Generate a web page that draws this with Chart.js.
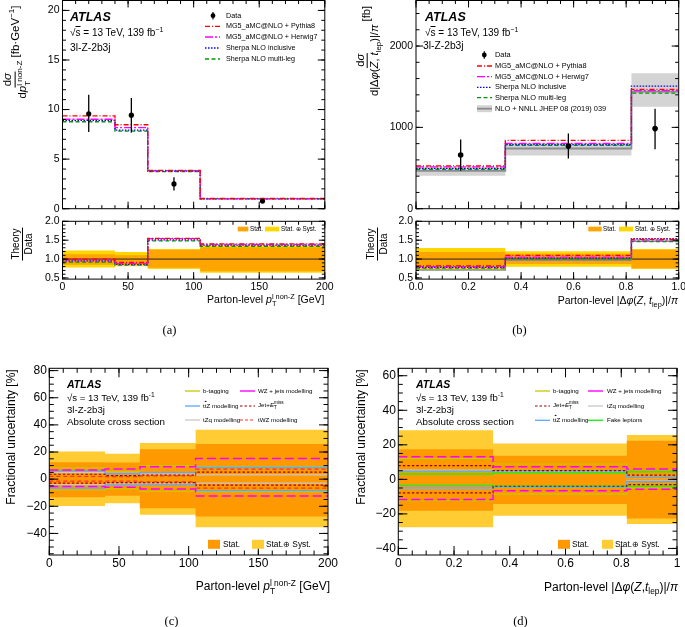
<!DOCTYPE html>
<html><head><meta charset="utf-8">
<script src="https://cdn.jsdelivr.net/npm/chart.js@4.4.1/dist/chart.umd.min.js"></script>
<style>
body{margin:0;background:#fff;}
#root{position:relative;width:685px;height:627px;overflow:hidden;background:#fff;font-family:'Liberation Sans',Arial,sans-serif;}
canvas{position:absolute;}
.t{position:absolute;white-space:nowrap;color:#000;line-height:1;font-family:'Liberation Sans',Arial,sans-serif;}
.t sub,.t sup{font-size:70%;line-height:0;}
.ss{display:inline-block;vertical-align:-0.45em;line-height:1;font-size:70%;text-align:left;}
.ss>span{display:block;}
.frac{display:inline-flex;flex-direction:column;align-items:center;vertical-align:middle;line-height:1.1;}
.frac>span:first-child{border-bottom:0.9px solid #000;padding:0 1px 1px 1px;}
.ov{text-decoration:overline;}
</style></head><body><div id="root"></div>
<script>
// ---------------- data ----------------
const binsPt = [0, 40, 65, 105, 200];
const binsDphi = [0, 0.34, 0.82, 1.0];

// (a) differential cross section vs pT(l non-Z)
const ptDataX = [20, 52.5, 85, 152.5];
const ptData = [9.57, 9.43, 2.50, 0.77];
const ptDataLo = [7.73, 7.67, 1.83, 0.59];
const ptDataHi = [11.50, 11.17, 3.17, 0.95];
const ptPythia8 = [9.37, 8.47, 3.87, 1.03];
const ptHerwig7 = [9.02, 8.17, 3.85, 1.02];
const ptSherpaIncl = [8.90, 7.93, 3.80, 1.00];
const ptSherpaML = [8.77, 7.83, 3.73, 0.99];
// (a) ratio
const ptRatPythia8 = [1.00, 0.91, 1.55, 1.40];
const ptRatHerwig7 = [0.98, 0.88, 1.54, 1.39];
const ptRatSherpaIncl = [0.95, 0.86, 1.51, 1.37];
const ptRatSherpaML = [0.92, 0.84, 1.48, 1.34];
const ptRatStatUp = [1.13, 1.10, 1.25, 1.31];
const ptRatStatDn = [0.85, 0.87, 0.77, 0.68];
const ptRatTotUp = [1.23, 1.19, 1.27, 1.36];
const ptRatTotDn = [0.78, 0.81, 0.74, 0.64];

// (b) differential cross section vs |dphi(Z,t_lep)|/pi
const dpDataX = [0.17, 0.58, 0.91];
const dpData = [660, 770, 985];
const dpDataLo = [466, 617, 730];
const dpDataHi = [852, 925, 1229];
const dpPythia8 = [527, 839, 1468];
const dpHerwig7 = [515, 803, 1452];
const dpSherpaIncl = [495, 787, 1508];
const dpSherpaML = [483, 779, 1420];
const dpNNLL = [466, 740, 1440];
const dpNNLLUp = [510, 805, 1665];
const dpNNLLDn = [405, 655, 1255];
// (b) ratio
const dpRatPythia8 = [0.82, 1.10, 1.52];
const dpRatHerwig7 = [0.80, 1.05, 1.50];
const dpRatSherpaIncl = [0.78, 1.03, 1.54];
const dpRatSherpaML = [0.76, 1.01, 1.46];
const dpRatNNLL = [0.71, 0.97, 1.47];
const dpRatStatUp = [1.19, 1.14, 1.25];
const dpRatStatDn = [0.80, 0.87, 0.76];
const dpRatTotUp = [1.29, 1.21, 1.27];
const dpRatTotDn = [0.72, 0.80, 0.74];

// (c) fractional uncertainties vs pT
const cTotUp = [20.4, 18.7, 26.6, 36.4];
const cTotDn = [-19.7, -17.7, -26.3, -35.4];
const cStatUp = [12.5, 12.3, 22.0, 26.0];
const cStatDn = [-13.3, -12.3, -21.4, -27.6];
const cWZUp = [6.8, 7.4, 9.2, 15.2];
const cWZDn = [-5.4, -5.9, -7.2, -12.5];
const cBtagUp = [8.3, 5.5, 9.8, 9.0];
const cBtagDn = [-8.0, -7.2, -9.0, -9.2];
const cTtZUp = [6.2, 4.0, 5.0, 8.6];
const cTtZDn = [-6.6, -4.2, -4.2, -8.4];
const cTZqUp = [4.8, 4.3, 3.7, 3.2];
const cTZqDn = [-4.0, -3.5, -3.0, -3.0];
const cJetUp = [3.6, 2.6, 3.0, 5.2];
const cJetDn = [-3.0, -2.5, -2.6, -4.4];
const cTWZUp = [2.0, 1.8, 2.4, 7.4];
const cTWZDn = [-1.4, -1.4, -2.0, -6.6];

// (d) fractional uncertainties vs dphi
const dTotUp = [28.5, 20.8, 25.7];
const dTotDn = [-27.8, -21.1, -25.9];
const dStatUp = [17.5, 13.7, 22.4];
const dStatDn = [-18.2, -14.3, -22.6];
const dWZUp = [13.1, 7.3, 6.0];
const dWZDn = [-11.6, -6.6, -5.8];
const dJetUp = [7.9, 5.0, 2.5];
const dJetDn = [-7.8, -4.0, -3.0];
const dBtagUp = [12.0, 8.9, 4.4];
const dBtagDn = [-12.4, -8.5, -5.0];
const dTZqUp = [5.4, 4.5, 1.0];
const dTZqDn = [-5.2, -4.4, -1.0];
const dTtZUp = [4.8, 4.9, 1.2];
const dTtZDn = [-5.0, -4.5, -1.4];
const dFakeUp = [3.1, 3.8, 4.4];
const dFakeDn = [-3.5, -3.9, -4.0];

const ratioRef = 1.0;

// ---------------- styles ----------------
const RED='#ff0000', MAG='#ff00ff', BLUE='#0000ff', GRN='#009a00';
const ORA_R='#ffa500', YEL_R='#ffd700';
const ORA='#ff9900', YEL='#ffcc33';
const S_BTAG='#c8c800', S_WZ='#ff00ff', S_TTZ='#5aa9ff', S_TZQ='#c8c8c8', S_JET='#990000', S_TWZ='#ff3030', S_FAKE='#22ee22';
const D_PY=[5,2,1,2], D_HW=[8,2,2,2], D_SI=[1.5,1.5], D_SM=[4,2.5];

const root = document.getElementById('root');
Chart.defaults.font.family = "'Liberation Sans', Arial, sans-serif";
Chart.defaults.color = '#000';

function steps(edges, vals){ return edges.map((e,i)=>({x:e, y:vals[Math.min(i, vals.length-1)]})); }
function stepDS(edges, vals, color, dash, width){
  return {data:steps(edges, vals), stepped:'before', borderColor:color, borderDash:dash||[], borderWidth:width||1.3, pointRadius:0, fill:false};
}
function bandDS(edges, up, dn, color){
  return [
    {data:steps(edges, up), stepped:'before', borderColor:'rgba(0,0,0,0)', borderWidth:1, pointRadius:0, backgroundColor:color, fill:'+1'},
    {data:steps(edges, dn), stepped:'before', borderColor:'rgba(0,0,0,0)', borderWidth:1, pointRadius:0, fill:false}
  ];
}
function dataDS(xs, vals, lo, hi, r){
  return {data:xs.map((x,i)=>({x:x, y:vals[i]})), showLine:false, pointRadius:r||2.6, pointBackgroundColor:'#000', pointBorderWidth:0, pointBorderColor:'#000', errLo:lo, errHi:hi};
}
function refDS(x0, x1, v){
  return {data:[{x:x0,y:v},{x:x1,y:v}], borderColor:'#222', borderWidth:1, pointRadius:0, fill:false};
}

const errBars = {id:'errBars', afterDatasetDraw(chart, args){
  const ds = chart.data.datasets[args.index]; if(!ds.errLo) return;
  const ctx = chart.ctx, xs = chart.scales.x, ys = chart.scales.y;
  ctx.save(); ctx.strokeStyle='#000'; ctx.lineWidth=1.3; ctx.setLineDash([]);
  ds.data.forEach((p,i)=>{ const px = xs.getPixelForValue(p.x);
    ctx.beginPath(); ctx.moveTo(px, ys.getPixelForValue(ds.errLo[i])); ctx.lineTo(px, ys.getPixelForValue(ds.errHi[i])); ctx.stroke(); });
  ctx.restore();
}};
const rootFrame = {id:'rootFrame', afterDraw(chart, args, o){
  const ctx = chart.ctx, a = chart.chartArea, xs = chart.scales.x, ys = chart.scales.y;
  ctx.save(); ctx.strokeStyle='#000'; ctx.lineWidth=1; ctx.setLineDash([]);
  function tk(scale, step, len, horiz){
    const s = Math.ceil(scale.min/step - 1e-6), e = Math.floor(scale.max/step + 1e-6);
    for(let i=s;i<=e;i++){ const p = scale.getPixelForValue(i*step); ctx.beginPath();
      if(horiz){ ctx.moveTo(p,a.bottom); ctx.lineTo(p,a.bottom-len); ctx.moveTo(p,a.top); ctx.lineTo(p,a.top+len); }
      else { ctx.moveTo(a.left,p); ctx.lineTo(a.left+len,p); ctx.moveTo(a.right,p); ctx.lineTo(a.right-len,p); }
      ctx.stroke(); }
  }
  tk(xs, o.xMin, o.xMinL, true); tk(xs, o.xMaj, o.xMajL, true);
  tk(ys, o.yMin, o.yMinL, false); tk(ys, o.yMaj, o.yMajL, false);
  ctx.strokeRect(a.left, a.top, a.right-a.left, a.bottom-a.top);
  ctx.restore();
}};
// tick values: every multiple of the step inside the axis range
function stepTicks(step){
  return s => { const out=[]; const i0=Math.ceil(s.min/step - 1e-6), i1=Math.floor(s.max/step + 1e-6);
    for(let i=i0;i<=i1;i++) out.push({value:+(i*step).toFixed(6)}); s.ticks = out; };
}

function mk(box, area, sc, datasets, frame){
  const c = document.createElement('canvas');
  c.width = box.w; c.height = box.h;
  c.style.left = box.x+'px'; c.style.top = box.y+'px'; c.style.width = box.w+'px'; c.style.height = box.h+'px';
  root.appendChild(c);
  const wy = area.l - box.x, hx = box.y + box.h - area.b, pt = area.t - box.y, pr = box.x + box.w - area.r;
  new Chart(c, {type:'line', data:{datasets:datasets}, plugins:[errBars, rootFrame], options:{
    responsive:false, animation:false, devicePixelRatio:1, events:[],
    layout:{padding:{left:0, top:pt, right:pr, bottom:0}},
    plugins:{legend:{display:false}, tooltip:{enabled:false}, rootFrame:frame},
    scales:{
      x:{type:'linear', min:sc.xmin, max:sc.xmax, afterFit:s=>{s.height=hx;}, afterBuildTicks:stepTicks(sc.xstep), grid:{display:false, drawTicks:false}, border:{display:false},
         ticks:{display:sc.xlab, padding:sc.xpad, autoSkip:false, maxRotation:0, font:{size:sc.fs}, color:'#000', callback:sc.xfmt}},
      y:{type:'linear', min:sc.ymin, max:sc.ymax, afterFit:s=>{s.width=wy;}, afterBuildTicks:stepTicks(sc.ystep), grid:{display:false, drawTicks:false}, border:{display:false},
         ticks:{display:true, padding:sc.ypad, autoSkip:false, font:{size:sc.fs}, color:'#000', callback:sc.yfmt}}
    }}});
}
const fInt = v => (v<0 ? '\u2212'+Math.abs(Math.round(v)) : String(Math.round(v)));
const f1 = v => v.toFixed(1);
const fShort = v => String(+v.toFixed(2));

// ---------------- charts ----------------
const frAB = {xMaj:50, xMin:10, yMaj:5, yMin:1, xMajL:7, xMinL:3.5, yMajL:7, yMinL:3.5};
// (a) main
mk({x:0,y:-10,w:345,h:228}, {l:62.5,t:0.5,r:324.8,b:210.5},
  {xmin:0,xmax:200,ymin:0,ymax:21,ystep:5,xstep:50,xlab:false,fs:10.5,ypad:3,xpad:2,yfmt:fInt},
  [dataDS(ptDataX, ptData, ptDataLo, ptDataHi, 2.6),
   stepDS(binsPt, ptPythia8, RED, D_PY), stepDS(binsPt, ptHerwig7, MAG, D_HW), stepDS(binsPt, ptSherpaIncl, BLUE, D_SI), stepDS(binsPt, ptSherpaML, GRN, D_SM)],
  frAB);
// (a) ratio
mk({x:0,y:212,w:345,h:100}, {l:62.5,t:220.5,r:324.8,b:279.1},
  {xmin:0,xmax:200,ymin:0.47,ymax:2.0,ystep:0.5,xstep:50,xlab:true,fs:10.5,ypad:3,xpad:2,yfmt:f1,xfmt:fInt},
  [stepDS(binsPt, ptRatPythia8, RED, D_PY), stepDS(binsPt, ptRatHerwig7, MAG, D_HW), stepDS(binsPt, ptRatSherpaIncl, BLUE, D_SI), stepDS(binsPt, ptRatSherpaML, GRN, D_SM),
   refDS(0, 200, ratioRef),
   ...bandDS(binsPt, ptRatStatUp, ptRatStatDn, ORA_R), ...bandDS(binsPt, ptRatTotUp, ptRatTotDn, YEL_R)],
  {xMaj:50, xMin:10, yMaj:0.5, yMin:0.1, xMajL:7, xMinL:3.5, yMajL:6, yMinL:3});
// (b) main
mk({x:340,y:-10,w:360,h:228}, {l:416,t:0.5,r:678.7,b:210.5},
  {xmin:0,xmax:1,ymin:0,ymax:2560,ystep:1000,xstep:0.2,xlab:false,fs:10.5,ypad:3,xpad:2,yfmt:fInt},
  [dataDS(dpDataX, dpData, dpDataLo, dpDataHi, 2.8),
   stepDS(binsDphi, dpPythia8, RED, D_PY), stepDS(binsDphi, dpHerwig7, MAG, D_HW), stepDS(binsDphi, dpSherpaIncl, BLUE, D_SI), stepDS(binsDphi, dpSherpaML, GRN, D_SM),
   stepDS(binsDphi, dpNNLL, '#8c8c8c', [], 1.8),
   ...bandDS(binsDphi, dpNNLLUp, dpNNLLDn, '#d4d4d4')],
  {xMaj:0.2, xMin:0.05, yMaj:1000, yMin:200, xMajL:7, xMinL:3.5, yMajL:7, yMinL:3.5});
// (b) ratio
mk({x:340,y:212,w:360,h:100}, {l:416,t:220.5,r:678.7,b:279.1},
  {xmin:0,xmax:1,ymin:0.47,ymax:2.0,ystep:0.5,xstep:0.2,xlab:true,fs:10.5,ypad:3,xpad:2,yfmt:f1,xfmt:f1},
  [stepDS(binsDphi, dpRatPythia8, RED, D_PY), stepDS(binsDphi, dpRatHerwig7, MAG, D_HW), stepDS(binsDphi, dpRatSherpaIncl, BLUE, D_SI), stepDS(binsDphi, dpRatSherpaML, GRN, D_SM),
   stepDS(binsDphi, dpRatNNLL, '#8c8c8c', [], 1.5),
   refDS(0, 1, ratioRef),
   ...bandDS(binsDphi, dpRatStatUp, dpRatStatDn, ORA_R), ...bandDS(binsDphi, dpRatTotUp, dpRatTotDn, YEL_R)],
  {xMaj:0.2, xMin:0.05, yMaj:0.5, yMin:0.1, xMajL:7, xMinL:3.5, yMajL:6, yMinL:3});
// (c)
const D_WZ=[9,4], D_JET=[2.5,2], D_TWZ=[4,3];
mk({x:0,y:355,w:345,h:235}, {l:49.3,t:368.3,r:328,b:555},
  {xmin:0,xmax:200,ymin:-55.9,ymax:81.7,ystep:20,xstep:50,xlab:true,fs:12,ypad:2.5,xpad:1.5,yfmt:fInt,xfmt:fInt},
  [stepDS(binsPt, cWZUp, S_WZ, D_WZ, 1.5), stepDS(binsPt, cWZDn, S_WZ, D_WZ, 1.5),
   stepDS(binsPt, cTWZUp, S_TWZ, D_TWZ, 1.2), stepDS(binsPt, cTWZDn, S_TWZ, D_TWZ, 1.2),
   stepDS(binsPt, cJetUp, S_JET, D_JET, 1.2), stepDS(binsPt, cJetDn, S_JET, D_JET, 1.2),
   stepDS(binsPt, cTtZUp, S_TTZ, [], 1.3), stepDS(binsPt, cTtZDn, S_TTZ, [], 1.3),
   stepDS(binsPt, cTZqUp, S_TZQ, [], 1.3), stepDS(binsPt, cTZqDn, S_TZQ, [], 1.3),
   stepDS(binsPt, cBtagUp, S_BTAG, [], 1.2), stepDS(binsPt, cBtagDn, S_BTAG, [], 1.2),
   ...bandDS(binsPt, cStatUp, cStatDn, ORA), ...bandDS(binsPt, cTotUp, cTotDn, YEL)],
  {xMaj:50, xMin:10, yMaj:20, yMin:5, xMajL:9, xMinL:4.5, yMajL:9, yMinL:4.5});
// (d)
mk({x:345,y:355,w:355,h:235}, {l:398.3,t:368.3,r:677,b:555},
  {xmin:0,xmax:1,ymin:-43.8,ymax:64.3,ystep:20,xstep:0.2,xlab:true,fs:12,ypad:2.5,xpad:1.5,yfmt:fInt,xfmt:fShort},
  [stepDS(binsDphi, dWZUp, S_WZ, D_WZ, 1.5), stepDS(binsDphi, dWZDn, S_WZ, D_WZ, 1.5),
   stepDS(binsDphi, dJetUp, S_JET, D_JET, 1.2), stepDS(binsDphi, dJetDn, S_JET, D_JET, 1.2),
   stepDS(binsDphi, dFakeUp, S_FAKE, [], 1.4), stepDS(binsDphi, dFakeDn, S_FAKE, [], 1.4),
   stepDS(binsDphi, dTtZUp, S_TTZ, [], 1.3), stepDS(binsDphi, dTtZDn, S_TTZ, [], 1.3),
   stepDS(binsDphi, dTZqUp, S_TZQ, [], 1.3), stepDS(binsDphi, dTZqDn, S_TZQ, [], 1.3),
   stepDS(binsDphi, dBtagUp, S_BTAG, [], 1.2), stepDS(binsDphi, dBtagDn, S_BTAG, [], 1.2),
   ...bandDS(binsDphi, dStatUp, dStatDn, ORA), ...bandDS(binsDphi, dTotUp, dTotDn, YEL)],
  {xMaj:0.2, xMin:0.05, yMaj:20, yMin:5, xMajL:9, xMinL:4.5, yMajL:9, yMinL:4.5});

// ---------------- text & legends ----------------
function T(x, y, html, o){
  o = o||{};
  const d = document.createElement('div'); d.className='t'; d.innerHTML = html;
  d.style.left = x+'px'; d.style.top = y+'px'; d.style.fontSize = (o.size||10)+'px';
  if(o.font) d.style.fontFamily = o.font;
  if(o.bold) d.style.fontWeight = 'bold';
  if(o.italic) d.style.fontStyle = 'italic';
  const ax = o.align==='right' ? '-100%' : (o.align==='center' || o.rot) ? '-50%' : '0';
  d.style.transform = 'translate('+ax+',-50%)' + (o.rot ? ' rotate('+o.rot+'deg)' : '');
  root.appendChild(d);
}
const NS='http://www.w3.org/2000/svg';
const svg = document.createElementNS(NS,'svg');
svg.setAttribute('width','685'); svg.setAttribute('height','627');
svg.style.position='absolute'; svg.style.left='0'; svg.style.top='0';
root.appendChild(svg);
function sEl(tag, attrs){ const e=document.createElementNS(NS,tag); for(const k in attrs) e.setAttribute(k, attrs[k]); svg.appendChild(e); return e; }
function sLine(x1,x2,y,color,w,dash){ sEl('line',{x1:x1,y1:y,x2:x2,y2:y,stroke:color,'stroke-width':w,'stroke-dasharray':dash?dash.join(' '):'none'}); }
function sRect(x,y,w,h,fill){ sEl('rect',{x:x,y:y,width:w,height:h,fill:fill}); }
function sData(cx,cy,r,half){ sEl('line',{x1:cx,y1:cy-half,x2:cx,y2:cy+half,stroke:'#000','stroke-width':1.2}); sEl('circle',{cx:cx,cy:cy,r:r,fill:'#000'}); }

const sqrtS = '\u221A<span class="ov">s</span> = 13 TeV, 139 fb<sup>\u22121</sup>';
const ptT = '<i>p</i><span class="ss"><span>l non-Z</span><span>T</span></span>';
const dphiT = '|\u0394<i>\u03C6</i>(<i>Z</i>, <i>t</i><sub>lep</sub>)|/<i>\u03C0</i>';
const ttZ = 't<span class="ov">t</span>Z modelling';
const jetMet = 'Jet+<i>E</i><span class="ss" style="font-size:75%"><span>miss</span><span>T</span></span>';
const SERIF = "'Liberation Serif','Times New Roman',serif";

// (a) labels
T(70, 17, 'ATLAS', {size:12.5, bold:true, italic:true});
T(70, 33, sqrtS, {size:10});
T(70, 48, '3l-Z-2b3j', {size:10.3});
const legA = [['Data',15.7],['MG5_aMC@NLO + Pythia8',26.3],['MG5_aMC@NLO + Herwig7',37],['Sherpa NLO inclusive',48],['Sherpa NLO multi-leg',59]];
legA.forEach(l=>T(226, l[1], l[0], {size:7.2}));
sData(213, 15.7, 2.4, 3.8);
sLine(205,220,26.3,RED,1.3,D_PY); sLine(205,220,37,MAG,1.3,D_HW); sLine(205,220,48,BLUE,1.3,D_SI); sLine(205,220,59,GRN,1.3,D_SM);
T(16, 52, '<span class="frac"><span>d<i>\u03C3</i></span><span>d'+ptT+'</span></span> [fb\u00B7GeV<sup>\u22121</sup>]', {size:11.5, rot:-90});
T(22, 244, '<span class="frac"><span>Theory</span><span>Data</span></span>', {size:10, rot:-90});
T(324.5, 300, 'Parton-level '+ptT+' [GeV]', {size:10.5, align:'right'});
sRect(237.7, 226.7, 10.6, 4.7, ORA_R); T(250, 229, 'Stat.', {size:6.3});
sRect(265, 226.7, 14.3, 4.7, YEL_R); T(281, 229, 'Stat. \u2295 Syst.', {size:6.3});
T(169.5, 330, '(a)', {size:12.5, font:SERIF, align:'center'});

// (b) labels
T(425, 17, 'ATLAS', {size:12.5, bold:true, italic:true});
T(425, 33, sqrtS, {size:10});
T(423, 46, '3l-Z-2b3j', {size:10.3});
const legB = [['Data',55],['MG5_aMC@NLO + Pythia8',66],['MG5_aMC@NLO + Herwig7',76.7],['Sherpa NLO inclusive',87.3],['Sherpa NLO multi-leg',97.7],['NLO + NNLL JHEP 08 (2019) 039',108.7]];
legB.forEach(l=>T(495, l[1], l[0], {size:7.4}));
sData(484.3, 55, 2.4, 3.8);
sLine(477,492,66,RED,1.3,D_PY); sLine(477,492,76.7,MAG,1.3,D_HW); sLine(477,492,87.3,BLUE,1.3,D_SI); sLine(477,492,97.7,GRN,1.3,D_SM);
sRect(477, 105.2, 15, 7, '#d4d4d4'); sLine(477,492,108.7,'#8c8c8c',1.8);
T(367, 51, '<span class="frac"><span>d<i>\u03C3</i></span><span>d'+dphiT+'</span></span> [fb]', {size:11.2, rot:-90});
T(377, 244, '<span class="frac"><span>Theory</span><span>Data</span></span>', {size:10, rot:-90});
T(678, 300, 'Parton-level '+dphiT, {size:10.5, align:'right'});
sRect(588.3, 226.7, 13.4, 4.7, ORA_R); T(603, 229, 'Stat.', {size:6.3});
sRect(619, 226.7, 14, 4.7, YEL_R); T(635, 229, 'Stat. \u2295 Syst.', {size:6.3});
T(519.5, 330, '(b)', {size:12.5, font:SERIF, align:'center'});

// (c) labels
T(67, 384, 'ATLAS', {size:10.5, bold:true, italic:true});
T(67, 398, '\u221As = 13 TeV, 139 fb<sup>-1</sup>', {size:9.6});
T(67, 410, '3l-Z-2b3j', {size:9.6});
T(67, 421.7, 'Absolute cross section', {size:9.8});
T(203, 391, 'b-tagging', {size:6.2}); sLine(185,200,391,S_BTAG,1.3);
T(258, 391, 'WZ + jets modelling', {size:6.2}); sLine(240,255,391,S_WZ,1.4);
T(203, 406, ttZ, {size:6.2}); sLine(185,200,406,S_TTZ,1.3);
T(258, 406, jetMet, {size:6.2}); sLine(240,255,406,S_JET,1.2,[2.5,2]);
T(203, 420, 'tZq modelling', {size:6.2}); sLine(185,200,420,S_TZQ,1.3);
T(258, 420, 'tWZ modelling', {size:6.2}); sLine(240,255,420,S_TWZ,1.2,[3,2]);
T(11, 437, 'Fractional uncertainty [%]', {size:12, rot:-90});
T(330, 587, 'Parton-level '+ptT+' [GeV]', {size:12, align:'right'});
sRect(208, 539.8, 12, 9, ORA); T(223, 544.3, 'Stat.', {size:8.3});
sRect(252, 539.8, 12, 9, YEL); T(266, 544.3, 'Stat.\u2295 Syst.', {size:8.3});
T(171.5, 621, '(c)', {size:12.5, font:SERIF, align:'center'});

// (d) labels
T(416, 384, 'ATLAS', {size:10.5, bold:true, italic:true});
T(416, 398, '\u221As = 13 TeV, 139 fb<sup>-1</sup>', {size:9.6});
T(416, 410, '3l-Z-2b3j', {size:9.6});
T(416, 421.7, 'Absolute cross section', {size:9.8});
T(553, 391, 'b-tagging', {size:6.2}); sLine(535,550,391,S_BTAG,1.3);
T(607, 391, 'WZ + jets modelling', {size:6.2}); sLine(588,603,391,S_WZ,1.4);
T(553, 406, jetMet, {size:6.2}); sLine(535,550,406,S_JET,1.2,[2.5,2]);
T(607, 406, 'tZq modelling', {size:6.2}); sLine(588,603,406,S_TZQ,1.3);
T(553, 420.3, ttZ, {size:6.2}); sLine(535,550,420.3,S_TTZ,1.3);
T(607, 420.3, 'Fake leptons', {size:6.2}); sLine(588,603,420.3,S_FAKE,1.4);
T(361, 437, 'Fractional uncertainty [%]', {size:12, rot:-90});
T(678, 587, 'Parton-level |\u0394<i>\u03C6</i>(<i>Z</i>,<i>t</i><sub>lep</sub>)|/<i>\u03C0</i>', {size:12, align:'right'});
sRect(558, 539.8, 12, 9, ORA); T(572, 544.3, 'Stat.', {size:8.3});
sRect(602, 539.8, 11, 9, YEL); T(615, 544.3, 'Stat.\u2295 Syst.', {size:8.3});
T(520.5, 621, '(d)', {size:12.5, font:SERIF, align:'center'});
</script></body></html>
